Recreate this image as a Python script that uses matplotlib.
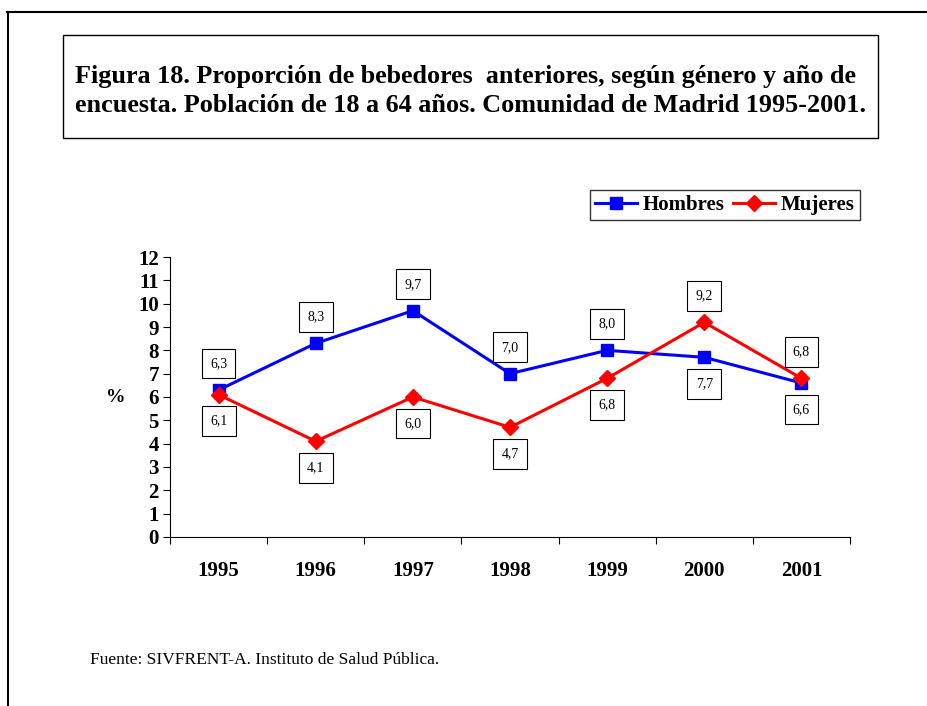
import matplotlib.pyplot as plt
from matplotlib.patches import Rectangle
from matplotlib.lines import Line2D

years = ['1995', '1996', '1997', '1998', '1999', '2000', '2001']
hombres = [6.3, 8.3, 9.7, 7.0, 8.0, 7.7, 6.6]
mujeres = [6.1, 4.1, 6.0, 4.7, 6.8, 9.2, 6.8]
# +1 label above the point, -1 below
hombres_pos = [1, 1, 1, 1, 1, -1, -1]
mujeres_pos = [-1, -1, -1, -1, -1, 1, 1]

plt.rcParams['font.family'] = ['Liberation Serif', 'DejaVu Serif']

W, H = 928, 706
fig = plt.figure(figsize=(W / 100, H / 100), dpi=100)

# outer frame (top and left lines only)
fig.add_artist(Line2D([7 / W, 1], [1 - 12 / H, 1 - 12 / H], color='black', lw=1.5))
fig.add_artist(Line2D([8 / W, 8 / W], [0, 1 - 12 / H], color='black', lw=1.5))

# title box
fig.add_artist(Rectangle((63 / W, 1 - 138 / H), (878 - 63) / W, (138 - 35) / H,
                         fill=False, edgecolor='black', lw=1.0, transform=fig.transFigure))
fig.text(75 / W, 1 - 76 / H, 'Figura 18. Proporción de bebedores  anteriores, según género y año de',
         fontsize=18.8, fontweight='bold', va='center', ha='left')
fig.text(75 / W, 1 - 105 / H, 'encuesta. Población de 18 a 64 años. Comunidad de Madrid 1995-2001.',
         fontsize=18.8, fontweight='bold', va='center', ha='left')

ax = fig.add_axes([170 / W, 169 / H, (850 - 170) / W, (537 - 257) / H])
x = list(range(len(years)))
ax.plot(x, hombres, color='#0000ff', lw=2.2, marker='s', ms=8.5, label='Hombres')
ax.plot(x, mujeres, color='#ff0000', lw=2.2, marker='D', ms=8.5, label='Mujeres')

for vals, pos in [(hombres, hombres_pos), (mujeres, mujeres_pos)]:
    for i, (v, p) in enumerate(zip(vals, pos)):
        ax.annotate(f'{v:.1f}'.replace('.', ','), (i, v), xytext=(0, 19 * p),
                    textcoords='offset points', ha='center', va='center', fontsize=10,
                    bbox=dict(boxstyle='square,pad=0.6', fc='white', ec='black', lw=0.8))

ax.set_xlim(-0.5, 6.5)
ax.set_ylim(0, 12)
ax.set_yticks(range(0, 13))
ax.set_xticks([i - 0.5 for i in range(8)])
ax.set_xticklabels([])
ax.set_xticks(x, minor=True)
ax.set_xticklabels(years, minor=True, fontsize=15, fontweight='bold')
ax.tick_params(axis='x', which='minor', length=0, pad=17)
ax.tick_params(axis='x', which='major', length=5, direction='out')
ax.tick_params(axis='y', length=5, direction='out', labelsize=15, pad=3)
for lab in ax.get_yticklabels():
    lab.set_fontweight('bold')
for s in ['top', 'right']:
    ax.spines[s].set_visible(False)
ax.set_ylabel('%', rotation=0, fontsize=14, fontweight='bold', labelpad=16, va='center')

leg = fig.legend(loc='upper right', bbox_to_anchor=(860 / W, 1 - 190 / H), ncol=2,
                 prop={'weight': 'bold', 'size': 15}, frameon=True, fancybox=False,
                 edgecolor='black', handlelength=2.0, columnspacing=0.4, handletextpad=0.3,
                 borderpad=0.25, borderaxespad=0)
leg.get_frame().set_linewidth(1.0)

fig.text(90 / W, 1 - 660 / H, 'Fuente: SIVFRENT-A. Instituto de Salud Pública.',
         fontsize=12.5, va='center', ha='left')

fig.savefig('out.png', dpi=100)
